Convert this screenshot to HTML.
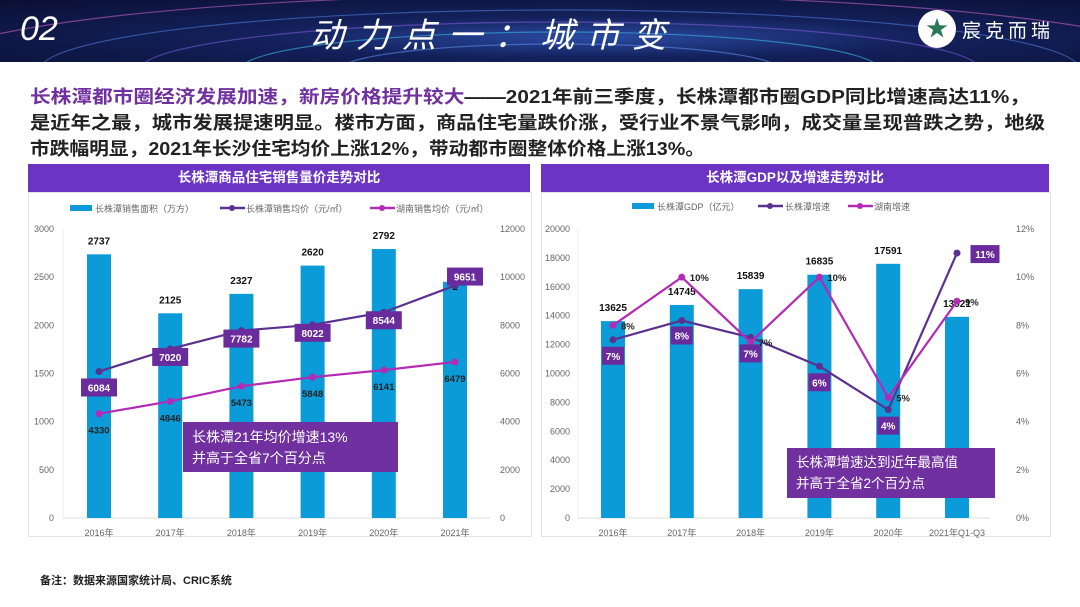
<!DOCTYPE html>
<html><head><meta charset="utf-8">
<style>
body{margin:0;width:1080px;height:607px;background:#fff;overflow:hidden;font-family:"Liberation Sans","Noto Sans CJK SC",sans-serif;position:relative}
.banner{position:absolute;left:0;top:0;width:1080px;height:62px;background:radial-gradient(ellipse at 55% 60%,#2a4aa0 0%,#13205a 40%,#0a0f33 100%);overflow:hidden}
.pl{position:absolute;left:30px;font-size:18px;font-weight:bold;color:#222;white-space:nowrap;transform-origin:0 0;line-height:22px}
.hdr{position:absolute;top:164px;height:28px;background:#6b34c4;color:#fff;font-size:13.5px;font-weight:bold;text-align:center;line-height:28px}
.panel{position:absolute;top:192px;height:343px;border:1px solid #e4e4e4;background:#fff}
svg text{font-family:"Liberation Sans","Noto Sans CJK SC",sans-serif}
</style></head><body>
<div class="banner">
<svg width="1080" height="62" style="position:absolute;left:0;top:0">
<g fill="none" stroke-width="1.2" opacity="0.6">
<ellipse cx="560" cy="70" rx="520" ry="60" stroke="#4a7bd8"/>
<ellipse cx="560" cy="70" rx="420" ry="48" stroke="#7b5ad8"/>
<ellipse cx="560" cy="70" rx="320" ry="38" stroke="#3bb4e8"/>
<ellipse cx="560" cy="70" rx="220" ry="26" stroke="#5b8be8"/>
<ellipse cx="560" cy="70" rx="640" ry="75" stroke="#c060c0"/>
</g></svg>
<div style="position:absolute;left:20px;top:10px;color:#fff;font-size:34px;font-style:italic">02</div>
<div style="position:absolute;left:310px;top:8px;color:#fff;font-size:34px;font-style:italic;letter-spacing:12px">动力点一：城市变</div>
<div style="position:absolute;left:918px;top:10px;width:38px;height:38px;border-radius:50%;background:#fff;color:#2a7a5a;text-align:center;line-height:38px;font-size:22px">★</div>
<div style="position:absolute;left:962px;top:16px;color:#fff;font-size:19px;letter-spacing:4px">宸克而瑞</div>
</div>
<div>
<div class="pl" id="l1" style="top:86px"><span style="color:#7030a0">长株潭都市圈经济发展加速，新房价格提升较大</span>——2021年前三季度，长株潭都市圈GDP同比增速高达11%，</div>
<div class="pl" id="l2" style="top:112px">是近年之最，城市发展提速明显。楼市方面，商品住宅量跌价涨，受行业不景气影响，成交量呈现普跌之势，地级</div>
<div class="pl" id="l3" style="top:138px">市跌幅明显，2021年长沙住宅均价上涨12%，带动都市圈整体价格上涨13%。</div>
</div>
<div class="hdr" style="left:28px;width:502px">长株潭商品住宅销售量价走势对比</div>
<div class="hdr" style="left:541px;width:508px">长株潭GDP以及增速走势对比</div>
<div class="panel" style="left:28px;width:502px"></div>
<div class="panel" style="left:541px;width:508px"></div>
<svg id="chart" width="1080" height="607" style="position:absolute;left:0;top:0"></svg>
<div style="position:absolute;left:40px;top:572px;font-size:11px;font-weight:bold;color:#222">备注：数据来源国家统计局、CRIC系统</div>
<script>
[["l1",1000],["l2",1015],["l3",675]].forEach(([id,w])=>{const e=document.getElementById(id);const s=w/e.getBoundingClientRect().width;e.style.transform='scaleX('+s+')';});

const years1=["2016年","2017年","2018年","2019年","2020年","2021年"];
const area=[2737,2125,2327,2620,2792,2452];
const areaLabels=["2737","2125","2327","2620","2792","2"];
const czPrice=[6084,7020,7782,8022,8544,9651];
const hnPrice=[4330,4846,5473,5848,6141,6479];
const leftTicks=[0,500,1000,1500,2000,2500,3000];
const rightTicks1=[0,2000,4000,6000,8000,10000,12000];
const years2=["2016年","2017年","2018年","2019年","2020年","2021年Q1-Q3"];
const gdp=[13625,14745,15839,16835,17591,13921];
const czGrowth=[7.4,8.2,7.5,6.3,4.5,11];
const hnGrowth=[8,10,7.3,10,5,9];
const czGrowthLabels=["7%","8%","7%","6%","4%","11%"];
const hnGrowthLabels=["8%","10%","7%","10%","5%","9%"];
const leftTicks2=[0,2000,4000,6000,8000,10000,12000,14000,16000,18000,20000];
const rightTicks2=[0,2,4,6,8,10,12];

const NS="http://www.w3.org/2000/svg";
const svg=document.getElementById('chart');
function mk(tag,attrs,parent){const e=document.createElementNS(NS,tag);for(const k in attrs)e.setAttribute(k,attrs[k]);(parent||svg).appendChild(e);return e;}
function txt(s,attrs){const e=mk('text',attrs);e.textContent=s;return e;}
const Y0=518,Y1=229;
const BLUE="#0a9bd8",PUR="#5b3190",MAG="#b32bb5",BOX="#6a2c9c";

// LEFT CHART
const xL=i=>99+i*71.2;
const yA=v=>Y0-(v/3000)*(Y0-Y1);
const yP=v=>Y0-(v/12000)*(Y0-Y1);
let a=mk('line',{x1:63,x2:490,y1:Y0,y2:Y0,stroke:'#ddd'});

a=mk('line',{x1:63,x2:63,y1:Y1,y2:Y0,stroke:'#eee'});
leftTicks.forEach(t=>{const e=txt(t,{x:54,y:yA(t)+3,'font-size':9,fill:'#666','text-anchor':'end'});});
rightTicks1.forEach(t=>{const e=txt(t,{x:500,y:yP(t)+3,'font-size':9,fill:'#666'});});
years1.forEach((y,i)=>{const e=txt(y,{x:xL(i),y:536,'font-size':9,fill:'#666','text-anchor':'middle'});});
area.forEach((v,i)=>{const r=mk('rect',{x:xL(i)-12,y:yA(v),width:24,height:Y0-yA(v),fill:BLUE});
 const t=txt(areaLabels[i],{x:xL(i),y:yA(v)-(i==5?-1:10)-(i==5?-7:0),'font-size':10,'font-weight':'bold',fill:'#111','text-anchor':'middle'});});
function line(vals,xf,yf,col,name){const p=mk('polyline',{points:vals.map((v,i)=>xf(i)+','+yf(v)).join(' '),fill:'none',stroke:col,'stroke-width':2.2});
 vals.forEach((v,i)=>{const c=mk('circle',{cx:xf(i),cy:yf(v),r:3.5,fill:col});});}
line(czPrice,xL,yP,PUR,'cz-price-line');
line(hnPrice,xL,yP,MAG,'hn-price-line');
function boxLabel(s,cx,cy,name){const w=s.length*7+8;const r=mk('rect',{x:cx-w/2,y:cy-9,width:w,height:18,fill:BOX});
 const t=txt(s,{x:cx,y:cy+4,'font-size':10,'font-weight':'bold',fill:'#fff','text-anchor':'middle'});}
czPrice.forEach((v,i)=>{if(i==5)boxLabel(String(v),xL(i)+10,yP(v)-9,'cz-price-label');else boxLabel(String(v),xL(i),yP(v)+16+(i==0?0:-8),'cz-price-label');});
hnPrice.forEach((v,i)=>{const t=txt(String(v),{x:xL(i),y:yP(v)+20,'font-size':9.5,'font-weight':'bold',fill:'#222','text-anchor':'middle'});});
let lg=mk('rect',{x:70,y:205,width:22,height:6,fill:BLUE});
txt('长株潭销售面积（万方）',{x:95,y:212,'font-size':9,fill:'#666'});
mk('line',{x1:220,x2:245,y1:208,y2:208,stroke:PUR,'stroke-width':2.5});mk('circle',{cx:232,cy:208,r:3,fill:PUR});
txt('长株潭销售均价（元/㎡）',{x:246,y:212,'font-size':9,fill:'#666'});
mk('line',{x1:370,x2:395,y1:208,y2:208,stroke:MAG,'stroke-width':2.5});mk('circle',{cx:382,cy:208,r:3,fill:MAG});
txt('湖南销售均价（元/㎡）',{x:396,y:212,'font-size':9,fill:'#666'});
let cb=mk('rect',{x:183,y:422,width:215,height:50,fill:'#7030a0'});
txt('长株潭21年均价增速13%',{x:192,y:442,'font-size':14,fill:'#fff'});
txt('并高于全省7个百分点',{x:192,y:463,'font-size':14,fill:'#fff'});

// RIGHT CHART
const xR=i=>613+i*68.8;
const yG=v=>Y0-(v/20000)*(Y0-Y1);
const yR=v=>Y0-(v/12)*(Y0-Y1);
mk('line',{x1:578,x2:990,y1:Y0,y2:Y0,stroke:'#ddd'});
mk('line',{x1:578,x2:578,y1:Y1,y2:Y0,stroke:'#eee'});
leftTicks2.forEach(t=>{const e=txt(t,{x:570,y:yG(t)+3,'font-size':9,fill:'#666','text-anchor':'end'});});
rightTicks2.forEach(t=>{const e=txt(t+'%',{x:1016,y:yR(t)+3,'font-size':9,fill:'#666'});});
years2.forEach((y,i)=>{const e=txt(y,{x:xR(i),y:536,'font-size':9,fill:'#666','text-anchor':'middle'});});
gdp.forEach((v,i)=>{const r=mk('rect',{x:xR(i)-12,y:yG(v),width:24,height:Y0-yG(v),fill:BLUE});
 const t=txt(String(v),{x:xR(i),y:yG(v)-10,'font-size':10,'font-weight':'bold',fill:'#111','text-anchor':'middle'});});
line(czGrowth,xR,yR,PUR,'cz-growth-line');
line(hnGrowth,xR,yR,MAG,'hn-growth-line');
czGrowth.forEach((v,i)=>{if(i==5)boxLabel(czGrowthLabels[i],xR(i)+28,yR(v)+1,'cz-growth-label');else boxLabel(czGrowthLabels[i],xR(i),yR(v)+(i==1?15:16),'cz-growth-label');});
hnGrowth.forEach((v,i)=>{const t=txt(hnGrowthLabels[i],{x:xR(i)+8,y:yR(v)+4,'font-size':9.5,'font-weight':'bold',fill:'#222'});});
lg=mk('rect',{x:632,y:203,width:22,height:6,fill:BLUE});
txt('长株潭GDP（亿元）',{x:657,y:210,'font-size':9,fill:'#666'});
mk('line',{x1:758,x2:783,y1:206,y2:206,stroke:PUR,'stroke-width':2.5});mk('circle',{cx:770,cy:206,r:3,fill:PUR});
txt('长株潭增速',{x:785,y:210,'font-size':9,fill:'#666'});
mk('line',{x1:848,x2:873,y1:206,y2:206,stroke:MAG,'stroke-width':2.5});mk('circle',{cx:860,cy:206,r:3,fill:MAG});
txt('湖南增速',{x:874,y:210,'font-size':9,fill:'#666'});
cb=mk('rect',{x:787,y:448,width:208,height:50,fill:'#7030a0'});
txt('长株潭增速达到近年最高值',{x:796,y:467,'font-size':13.5,fill:'#fff'});
txt('并高于全省2个百分点',{x:796,y:488,'font-size':13.5,fill:'#fff'});
</script>
</body></html>
